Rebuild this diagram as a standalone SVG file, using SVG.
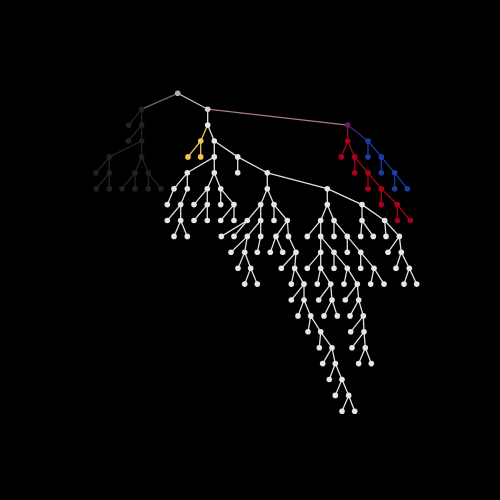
<svg xmlns="http://www.w3.org/2000/svg" width="500" height="500" viewBox="0 0 500 500">
<style>
.l{fill:none;stroke-width:1.3}
.lw{stroke:#e0e0e0}
.lb{stroke:#242424}
.ly{stroke:#e8c44c}
.lr{stroke:#a8001e}
.lu{stroke:#1c3a9e}
.nw{fill:#e6e6e6}
.nb{fill:#222}
.ny{fill:#f0c850}
.nr{fill:#aa001e}
.nu{fill:#1c3ca6}
</style>
<rect width="500" height="500" fill="#000"/>
<g id="connectors">
<path class="l" stroke="#6a6666" d="M177.7 93.3L141.7 109.2"/>
<path class="l" stroke="#cbbcc0" d="M177.7 93.3L207.7 109.2"/>
<path class="l" stroke="#a8788e" d="M207.7 109.2L347.7 125.1"/>
<path class="l" stroke="#8c1038" d="M347.7 125.1L347.7 141"/>
<path class="l" stroke="#3c2878" d="M347.7 125.1L368 141"/>
<path class="l lb" d="M141.7 109.2L128.7 125.1M141.7 109.2L141.7 125.1M141.7 125.1L128.3 141M141.7 125.1L141.7 141M141.7 141L109.3 156.9M141.7 141L141.7 156.9M109.3 156.9L96 172.8M109.3 156.9L109.3 172.8M141.7 156.9L135 172.8M141.7 156.9L148.3 172.8M109.3 172.8L96.3 188.7M109.3 172.8L109.3 188.7M135 172.8L122 188.7M135 172.8L135 188.7M148.3 172.8L148.3 188.7M148.3 172.8L161 188.7"/>
<path class="l ly" d="M207.7 125.1L200.7 141M200.7 141L188 156.9M200.7 141L200.7 156.9"/>
<path class="l lr" d="M347.7 141L341.3 156.9M347.7 141L354.7 156.9M354.7 156.9L354.7 172.8M354.7 156.9L368 172.8M368 172.8L368 188.7M368 172.8L381.3 188.7M381.3 188.7L381.3 204.6M381.3 188.7L397.3 204.6M397.3 204.6L397.3 220.5M397.3 204.6L410.3 220.5"/>
<path class="l lu" d="M368 141L368 156.9M368 141L381.3 156.9M381.3 156.9L381.3 172.8M381.3 156.9L394.7 172.8M394.7 172.8L394.7 188.7M394.7 172.8L407.3 188.7"/>
<path class="l lw" d="M207.7 109.2L207.7 125.1M207.7 125.1L214.3 141M214.3 141L214.3 156.9M214.3 141L237.7 156.9M214.3 156.9L187.3 172.8M214.3 156.9L214.3 172.8M237.7 156.9L237.7 172.8M237.7 156.9L267.3 172.8
M187.3 172.8L174 188.7M187.3 172.8L187.3 188.7M214.3 172.8L207.3 188.7M214.3 172.8L220.7 188.7M267.3 172.8L267.3 188.7M267.3 172.8L327.3 188.7
M174 188.7L167.3 204.6M187.3 188.7L180.7 204.6M207.3 188.7L194 204.6M207.3 188.7L207.3 204.6M220.7 188.7L220.7 204.6M220.7 188.7L234 204.6M267.3 188.7L260.7 204.6M267.3 188.7L274 204.6M327.3 188.7L327.3 204.6M327.3 188.7L362 204.6
M180.7 204.6L167.3 220.5M180.7 204.6L180.7 220.5M207.3 204.6L194 220.5M207.3 204.6L207.3 220.5M234 204.6L220.7 220.5M234 204.6L234 220.5M260.7 204.6L247.3 220.5M260.7 204.6L260.7 220.5M274 204.6L274 220.5M274 204.6L287.3 220.5M327.3 204.6L320.7 220.5M327.3 204.6L334 220.5M362 204.6L362 220.5M362 204.6L384.7 220.5
M180.7 220.5L174 236.4M180.7 220.5L187.3 236.4M247.3 220.5L221.3 236.4M247.3 220.5L234 236.4M260.7 220.5L247.3 236.4M260.7 220.5L260.7 236.4M287.3 220.5L276 236.4M287.3 220.5L288.5 236.4M320.7 220.5L307.3 236.4M320.7 220.5L320.7 236.4M334 220.5L334 236.4M334 220.5L347.3 236.4M362 220.5L360.7 236.4M362 220.5L373.3 236.4M384.7 220.5L386 236.4M384.7 220.5L399.3 236.4
M247.3 236.4L231 252.3M247.3 236.4L244.7 252.3M260.7 236.4L257.3 252.3M276 236.4L270.3 252.3M276 236.4L282.7 252.3M288.5 236.4L296 252.3M320.7 236.4L320.7 252.3M320.7 236.4L334 252.3M347.3 236.4L347.3 252.3M347.3 236.4L360.7 252.3M399.3 236.4L388 252.3M399.3 236.4L401.3 252.3
M244.7 252.3L238 268.2M244.7 252.3L250.7 268.2M296 252.3L281.3 268.2M296 252.3L294.7 268.2M320.7 252.3L307.3 268.2M320.7 252.3L320.7 268.2M334 252.3L334 268.2M334 252.3L347.3 268.2M360.7 252.3L360.7 268.2M360.7 252.3L374 268.2M401.3 252.3L396 268.2M401.3 252.3L409.3 268.2
M250.7 268.2L244.7 284.1M250.7 268.2L257.3 284.1M294.7 268.2L291.3 284.1M294.7 268.2L304 284.1M320.7 268.2L317.3 284.1M320.7 268.2L330.7 284.1M347.3 268.2L344 284.1M347.3 268.2L357.3 284.1M374 268.2L370.7 284.1M374 268.2L384 284.1M409.3 268.2L404 284.1M409.3 268.2L416.7 284.1
M304 284.1L291.3 300M304 284.1L304 300M330.7 284.1L318.7 300M330.7 284.1L332 300M357.3 284.1L345.3 300M357.3 284.1L358.7 300
M304 300L298 315.9M304 300L310.7 315.9M332 300L324 315.9M332 300L337.3 315.9M358.7 300L350 315.9M358.7 300L363.3 315.9
M310.7 315.9L308 331.8M310.7 315.9L320.7 331.8M363.3 315.9L350.7 331.8M363.3 315.9L364 331.8
M320.7 331.8L319.3 347.7M320.7 331.8L332 347.7M364 331.8L352 347.7M364 331.8L365.3 347.7
M332 347.7L322.7 363.6M332 347.7L335.3 363.6M365.3 347.7L358.7 363.6M365.3 347.7L371.3 363.6
M335.3 363.6L329.3 379.5M335.3 363.6L342 379.5M342 379.5L335.3 395.4M342 379.5L348.7 395.4M348.7 395.4L342 411.3M348.7 395.4L354.7 411.3"/>
</g>
<g id="n-root"><circle cx="177.7" cy="93.3" r="2.8" fill="#b4aeae"/></g>
<g id="n-w0"><circle cx="207.7" cy="109.2" r="2.8" fill="#dccfd3"/></g>
<g id="n-purple"><circle cx="347.7" cy="125.1" r="2.8" fill="#6c1c4e"/></g>
<g id="black-nodes" class="nb">
<g id="nb1"><circle cx="141.7" cy="109.2" r="2.8"/></g>
<g id="nb2"><circle cx="128.7" cy="125.1" r="2.8"/></g>
<g id="nb3"><circle cx="141.7" cy="125.1" r="2.8"/></g>
<g id="nb4"><circle cx="128.3" cy="141" r="2.8"/></g>
<g id="nb5"><circle cx="141.7" cy="141" r="2.8"/></g>
<g id="nb6"><circle cx="109.3" cy="156.9" r="2.8"/></g>
<g id="nb7"><circle cx="141.7" cy="156.9" r="2.8"/></g>
<g id="nb8"><circle cx="96" cy="172.8" r="2.8"/></g>
<g id="nb9"><circle cx="109.3" cy="172.8" r="2.8"/></g>
<g id="nb10"><circle cx="135" cy="172.8" r="2.8"/></g>
<g id="nb11"><circle cx="148.3" cy="172.8" r="2.8"/></g>
<g id="nb12"><circle cx="96.3" cy="188.7" r="2.8"/></g>
<g id="nb13"><circle cx="109.3" cy="188.7" r="2.8"/></g>
<g id="nb14"><circle cx="122" cy="188.7" r="2.8"/></g>
<g id="nb15"><circle cx="135" cy="188.7" r="2.8"/></g>
<g id="nb16"><circle cx="148.3" cy="188.7" r="2.8"/></g>
<g id="nb17"><circle cx="161" cy="188.7" r="2.8"/></g>
</g>
<g id="yellow-nodes" class="ny">
<g id="ny0"><circle cx="200.7" cy="141" r="2.8"/></g>
<g id="ny1"><circle cx="188" cy="156.9" r="2.8"/></g>
<g id="ny2"><circle cx="200.7" cy="156.9" r="2.8"/></g>
</g>
<g id="red-nodes" class="nr">
<g id="nr0"><circle cx="347.7" cy="141" r="2.8"/></g>
<g id="nr1"><circle cx="341.3" cy="156.9" r="2.8"/></g>
<g id="nr2"><circle cx="354.7" cy="156.9" r="2.8"/></g>
<g id="nr3"><circle cx="354.7" cy="172.8" r="2.8"/></g>
<g id="nr4"><circle cx="368" cy="172.8" r="2.8"/></g>
<g id="nr5"><circle cx="368" cy="188.7" r="2.8"/></g>
<g id="nr6"><circle cx="381.3" cy="188.7" r="2.8"/></g>
<g id="nr7"><circle cx="381.3" cy="204.6" r="2.8"/></g>
<g id="nr8"><circle cx="397.3" cy="204.6" r="2.8"/></g>
<g id="nr9"><circle cx="397.3" cy="220.5" r="2.8"/></g>
<g id="nr10"><circle cx="410.3" cy="220.5" r="2.8"/></g>
</g>
<g id="blue-nodes" class="nu">
<g id="nu0"><circle cx="368" cy="141" r="2.8"/></g>
<g id="nu1"><circle cx="368" cy="156.9" r="2.8"/></g>
<g id="nu2"><circle cx="381.3" cy="156.9" r="2.8"/></g>
<g id="nu3"><circle cx="381.3" cy="172.8" r="2.8"/></g>
<g id="nu4"><circle cx="394.7" cy="172.8" r="2.8"/></g>
<g id="nu5"><circle cx="394.7" cy="188.7" r="2.8"/></g>
<g id="nu6"><circle cx="407.3" cy="188.7" r="2.8"/></g>
</g>
<g id="white-nodes" class="nw">
<g id="nw1"><circle cx="207.7" cy="125.1" r="2.8"/></g>
<g id="nw2"><circle cx="214.3" cy="141" r="2.8"/></g>
<g id="nw3"><circle cx="214.3" cy="156.9" r="2.8"/></g>
<g id="nw4"><circle cx="237.7" cy="156.9" r="2.8"/></g>
<g id="nw5"><circle cx="187.3" cy="172.8" r="2.8"/></g>
<g id="nw6"><circle cx="214.3" cy="172.8" r="2.8"/></g>
<g id="nw7"><circle cx="237.7" cy="172.8" r="2.8"/></g>
<g id="nw8"><circle cx="267.3" cy="172.8" r="2.8"/></g>
<g id="nw9"><circle cx="174" cy="188.7" r="2.8"/></g>
<g id="nw10"><circle cx="187.3" cy="188.7" r="2.8"/></g>
<g id="nw11"><circle cx="207.3" cy="188.7" r="2.8"/></g>
<g id="nw12"><circle cx="220.7" cy="188.7" r="2.8"/></g>
<g id="nw13"><circle cx="267.3" cy="188.7" r="2.8"/></g>
<g id="nw14"><circle cx="327.3" cy="188.7" r="2.8"/></g>
<g id="nw15"><circle cx="167.3" cy="204.6" r="2.8"/></g>
<g id="nw16"><circle cx="180.7" cy="204.6" r="2.8"/></g>
<g id="nw17"><circle cx="194" cy="204.6" r="2.8"/></g>
<g id="nw18"><circle cx="207.3" cy="204.6" r="2.8"/></g>
<g id="nw19"><circle cx="220.7" cy="204.6" r="2.8"/></g>
<g id="nw20"><circle cx="234" cy="204.6" r="2.8"/></g>
<g id="nw21"><circle cx="260.7" cy="204.6" r="2.8"/></g>
<g id="nw22"><circle cx="274" cy="204.6" r="2.8"/></g>
<g id="nw23"><circle cx="327.3" cy="204.6" r="2.8"/></g>
<g id="nw24"><circle cx="362" cy="204.6" r="2.8"/></g>
<g id="nw25"><circle cx="167.3" cy="220.5" r="2.8"/></g>
<g id="nw26"><circle cx="180.7" cy="220.5" r="2.8"/></g>
<g id="nw27"><circle cx="194" cy="220.5" r="2.8"/></g>
<g id="nw28"><circle cx="207.3" cy="220.5" r="2.8"/></g>
<g id="nw29"><circle cx="220.7" cy="220.5" r="2.8"/></g>
<g id="nw30"><circle cx="234" cy="220.5" r="2.8"/></g>
<g id="nw31"><circle cx="247.3" cy="220.5" r="2.8"/></g>
<g id="nw32"><circle cx="260.7" cy="220.5" r="2.8"/></g>
<g id="nw33"><circle cx="274" cy="220.5" r="2.8"/></g>
<g id="nw34"><circle cx="287.3" cy="220.5" r="2.8"/></g>
<g id="nw35"><circle cx="320.7" cy="220.5" r="2.8"/></g>
<g id="nw36"><circle cx="334" cy="220.5" r="2.8"/></g>
<g id="nw37"><circle cx="362" cy="220.5" r="2.8"/></g>
<g id="nw38"><circle cx="384.7" cy="220.5" r="2.8"/></g>
<g id="nw39"><circle cx="174" cy="236.4" r="2.8"/></g>
<g id="nw40"><circle cx="187.3" cy="236.4" r="2.8"/></g>
<g id="nw41"><circle cx="221.3" cy="236.4" r="2.8"/></g>
<g id="nw42"><circle cx="234" cy="236.4" r="2.8"/></g>
<g id="nw43"><circle cx="247.3" cy="236.4" r="2.8"/></g>
<g id="nw44"><circle cx="260.7" cy="236.4" r="2.8"/></g>
<g id="nw45"><circle cx="276" cy="236.4" r="2.8"/></g>
<g id="nw46"><circle cx="288.5" cy="236.4" r="2.8"/></g>
<g id="nw47"><circle cx="307.3" cy="236.4" r="2.8"/></g>
<g id="nw48"><circle cx="320.7" cy="236.4" r="2.8"/></g>
<g id="nw49"><circle cx="334" cy="236.4" r="2.8"/></g>
<g id="nw50"><circle cx="347.3" cy="236.4" r="2.8"/></g>
<g id="nw51"><circle cx="360.7" cy="236.4" r="2.8"/></g>
<g id="nw52"><circle cx="373.3" cy="236.4" r="2.8"/></g>
<g id="nw53"><circle cx="386" cy="236.4" r="2.8"/></g>
<g id="nw54"><circle cx="399.3" cy="236.4" r="2.8"/></g>
<g id="nw55"><circle cx="231" cy="252.3" r="2.8"/></g>
<g id="nw56"><circle cx="244.7" cy="252.3" r="2.8"/></g>
<g id="nw57"><circle cx="257.3" cy="252.3" r="2.8"/></g>
<g id="nw58"><circle cx="270.3" cy="252.3" r="2.8"/></g>
<g id="nw59"><circle cx="282.7" cy="252.3" r="2.8"/></g>
<g id="nw60"><circle cx="296" cy="252.3" r="2.8"/></g>
<g id="nw61"><circle cx="320.7" cy="252.3" r="2.8"/></g>
<g id="nw62"><circle cx="334" cy="252.3" r="2.8"/></g>
<g id="nw63"><circle cx="347.3" cy="252.3" r="2.8"/></g>
<g id="nw64"><circle cx="360.7" cy="252.3" r="2.8"/></g>
<g id="nw65"><circle cx="388" cy="252.3" r="2.8"/></g>
<g id="nw66"><circle cx="401.3" cy="252.3" r="2.8"/></g>
<g id="nw67"><circle cx="238" cy="268.2" r="2.8"/></g>
<g id="nw68"><circle cx="250.7" cy="268.2" r="2.8"/></g>
<g id="nw69"><circle cx="281.3" cy="268.2" r="2.8"/></g>
<g id="nw70"><circle cx="294.7" cy="268.2" r="2.8"/></g>
<g id="nw71"><circle cx="307.3" cy="268.2" r="2.8"/></g>
<g id="nw72"><circle cx="320.7" cy="268.2" r="2.8"/></g>
<g id="nw73"><circle cx="334" cy="268.2" r="2.8"/></g>
<g id="nw74"><circle cx="347.3" cy="268.2" r="2.8"/></g>
<g id="nw75"><circle cx="360.7" cy="268.2" r="2.8"/></g>
<g id="nw76"><circle cx="374" cy="268.2" r="2.8"/></g>
<g id="nw77"><circle cx="396" cy="268.2" r="2.8"/></g>
<g id="nw78"><circle cx="409.3" cy="268.2" r="2.8"/></g>
<g id="nw79"><circle cx="244.7" cy="284.1" r="2.8"/></g>
<g id="nw80"><circle cx="257.3" cy="284.1" r="2.8"/></g>
<g id="nw81"><circle cx="291.3" cy="284.1" r="2.8"/></g>
<g id="nw82"><circle cx="304" cy="284.1" r="2.8"/></g>
<g id="nw83"><circle cx="317.3" cy="284.1" r="2.8"/></g>
<g id="nw84"><circle cx="330.7" cy="284.1" r="2.8"/></g>
<g id="nw85"><circle cx="344" cy="284.1" r="2.8"/></g>
<g id="nw86"><circle cx="357.3" cy="284.1" r="2.8"/></g>
<g id="nw87"><circle cx="370.7" cy="284.1" r="2.8"/></g>
<g id="nw88"><circle cx="384" cy="284.1" r="2.8"/></g>
<g id="nw89"><circle cx="404" cy="284.1" r="2.8"/></g>
<g id="nw90"><circle cx="416.7" cy="284.1" r="2.8"/></g>
<g id="nw91"><circle cx="291.3" cy="300" r="2.8"/></g>
<g id="nw92"><circle cx="304" cy="300" r="2.8"/></g>
<g id="nw93"><circle cx="318.7" cy="300" r="2.8"/></g>
<g id="nw94"><circle cx="332" cy="300" r="2.8"/></g>
<g id="nw95"><circle cx="345.3" cy="300" r="2.8"/></g>
<g id="nw96"><circle cx="358.7" cy="300" r="2.8"/></g>
<g id="nw97"><circle cx="298" cy="315.9" r="2.8"/></g>
<g id="nw98"><circle cx="310.7" cy="315.9" r="2.8"/></g>
<g id="nw99"><circle cx="324" cy="315.9" r="2.8"/></g>
<g id="nw100"><circle cx="337.3" cy="315.9" r="2.8"/></g>
<g id="nw101"><circle cx="350" cy="315.9" r="2.8"/></g>
<g id="nw102"><circle cx="363.3" cy="315.9" r="2.8"/></g>
<g id="nw103"><circle cx="308" cy="331.8" r="2.8"/></g>
<g id="nw104"><circle cx="320.7" cy="331.8" r="2.8"/></g>
<g id="nw105"><circle cx="350.7" cy="331.8" r="2.8"/></g>
<g id="nw106"><circle cx="364" cy="331.8" r="2.8"/></g>
<g id="nw107"><circle cx="319.3" cy="347.7" r="2.8"/></g>
<g id="nw108"><circle cx="332" cy="347.7" r="2.8"/></g>
<g id="nw109"><circle cx="352" cy="347.7" r="2.8"/></g>
<g id="nw110"><circle cx="365.3" cy="347.7" r="2.8"/></g>
<g id="nw111"><circle cx="322.7" cy="363.6" r="2.8"/></g>
<g id="nw112"><circle cx="335.3" cy="363.6" r="2.8"/></g>
<g id="nw113"><circle cx="358.7" cy="363.6" r="2.8"/></g>
<g id="nw114"><circle cx="371.3" cy="363.6" r="2.8"/></g>
<g id="nw115"><circle cx="329.3" cy="379.5" r="2.8"/></g>
<g id="nw116"><circle cx="342" cy="379.5" r="2.8"/></g>
<g id="nw117"><circle cx="335.3" cy="395.4" r="2.8"/></g>
<g id="nw118"><circle cx="348.7" cy="395.4" r="2.8"/></g>
<g id="nw119"><circle cx="342" cy="411.3" r="2.8"/></g>
<g id="nw120"><circle cx="354.7" cy="411.3" r="2.8"/></g>
</g>
</svg>
